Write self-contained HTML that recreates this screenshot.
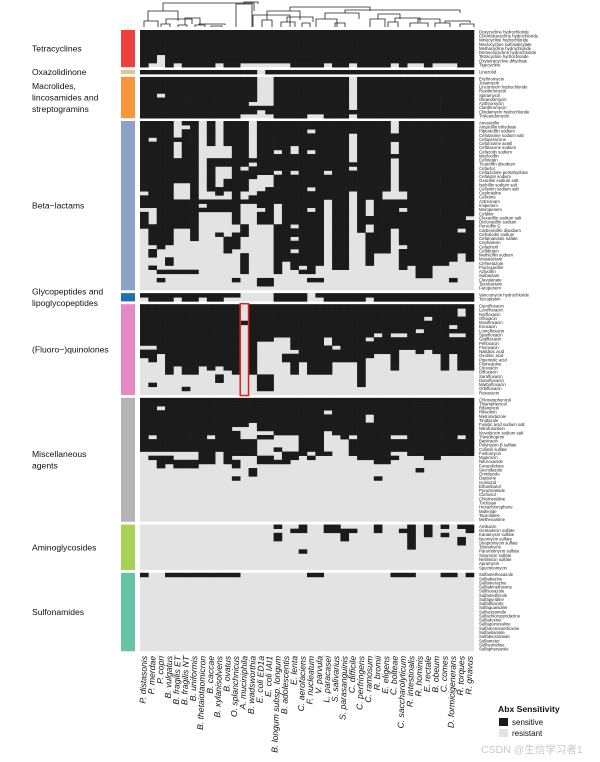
<!DOCTYPE html>
<html><head><meta charset="utf-8">
<style>
html,body{margin:0;padding:0;background:#fff;}
svg{display:block;font-family:"Liberation Sans",sans-serif;}
</style></head>
<body>
<svg id="chart" width="600" height="762" viewBox="0 0 600 762" xmlns="http://www.w3.org/2000/svg">
<g id="dendro" stroke="#222" stroke-width="0.8" fill="none">
<path d="M144 27V21H158V27 M148 21V11H178V21 M161 27V24H170V27 M166 24V19H192V24 M178 27V25H187V27 M185 25V18H200V25 M195 27V25H205V27 M199 25V24H225V25 M211 27V26H222V27 M163 11V3H254V11"/>
<path d="M236 27V4H252V27 M244 4V2H258V4 M253 27V15H290V27 M262 27V20H272V27 M267 20V11H300V20 M281 27V22H295V27 M287 22V17H313V22 M302 27V23H310V27 M290 11V7H370V11 M316 27V19H337V27 M325 19V13H359V19 M335 27V23H345V27 M345 13V10H460V13 M370 27V19H385V27 M378 19V14H400V19 M388 27V22H398V27 M395 22V18H420V22 M410 27V23H428V27 M418 23V19H440V23 M435 27V23H450V27 M445 23V21H470V23 M460 27V24H474V27"/>
</g>
<g id="left" font-size="8.6" fill="#111"></g>
<g id="bars"></g>
<g id="cells"></g>
<g id="rowlabels" font-size="4.3" fill="#222"></g>
<g id="collabels" font-size="8.6" font-style="italic" fill="#111"></g>
<g>
<text x="498" y="712" font-size="8.6" font-weight="bold" fill="#111">Abx Sensitivity</text>
<rect x="499" y="718" width="9" height="8" fill="#1a1a1a"/>
<text x="512" y="725" font-size="8" fill="#111">sensitive</text>
<rect x="499" y="729" width="9" height="8" fill="#e3e3e3"/>
<text x="512" y="736" font-size="8" fill="#111">resistant</text>
</g>
<text x="481" y="753" font-size="10.5" fill="#c8c8c8" font-family="'Liberation Sans','Noto Sans CJK SC',sans-serif">CSDN @生信学习者1</text>
</svg>
<script>
const colNames = ["P. distasonis","P. merdae","P. copri","B. vulgatus","B. fragilis ET","B. fragilis NT","B. uniformis","B. thetaiotaomicron","B. caccae","B. xylanisolvens","B. ovatus","O. splanchnicus","A. muciniphila","B. wadsworthia","E. coli ED1a","E. coli IAI1","B. longum subsp. longum","B. adolescentis","E. lenta","C. aerofaciens","F. nucleatum","V. parvula","L. paracasei","S. salivarius","S. parasanguinis","C. difficile","C. perfringens","C. ramosum","R. bromii","E. eligens","C. bolteae","C. saccharolyticum","R. intestinalis","R. hominis","E. rectale","B. obeum","C. comes","D. formicigenerans","R. torques","R. gnavus"];
const groupNames = ["Tetracyclines","Oxazolidinone","Macrolides, lincosamides and streptogramins","Beta\u2212lactams","Glycopeptides and lipoglycopeptides","(Fluoro\u2212)quinolones","Miscellaneous agents","Aminoglycosides","Sulfonamides"];
const groupColors = ["#ef3f3f","#e3c393","#f7963a","#8ea1cb","#2070b0","#e58ac2","#b4b4b4","#a6d355","#66c3a5"];
// rows: "g:" = list of resistant columns (rest sensitive); "b:" = list of sensitive columns (rest resistant)
const tetraRows = ["g:","g:","g:","g:","g:","g:","g:2","g:2","g:1,2,4,9,12-17,22,25,30,32,33,35-37"];
const oxaRows = ["g:14"];
const macroRows = ["g:14,15,25","g:14,15,25","g:14,15,25","g:14,15,25","g:2,14,15,25","g:14,15,25","g:13-15,25","g:25","g:14","g:12-15,20,21,25"];
const betaRows = ["g:4,7,9,13,30","g:4,5,7,9,13,30","g:4,7,9,13,20,30","g:4,7,9,13,25","g:1,7,9,13,25","g:4,7,9,13,25,30","g:4,7-10,13,18,25,30","g:4,7-10,13,16,18,20,25,30","g:4,7-10,13,25","g:7,25,30","g:7,13,30","g:7,9,10,12,25,30","g:7,9,10,16,18,22,30","g:7,9,10,14,15,30","g:7,9,13-15,30","g:4,5,7,9,13-15,30","g:4,5,7,13,14,20,30","g:0,4,5,7,8,10,12,13,25,29-31","g:4,5,7-10,12,25,29-31","g:22,25,27","g:7,12,13,16,22,25,27","g:0,1,12-14,16,20,22,25,27,31","g:1,7-10,12,13,16,22,25,27","g:1,7-10,12,13,16,22,25,39","g:1,7-10,12,13,16,22,25","g:7-11,13-15,18,22,25,27","g:0,4,5,7-11,13-15,22,25,27,30,38","g:0,4,5,7,8,10,13-15,22,25,26,30","g:0,4,5,7-9,12-15,18,22,25,26,30","g:0,4-9,12-15,22,25,26,30","g:0,1,3-9,12-15,22,25,26,30,31","g:0,2-9,11-15,18,22,25,26,30","g:0,2-11,13-15,22,25,26,28-30,38","g:0-2,4-11,13-15,22,25,26,28-30,38","g:0-2,4-11,13-15,17,22,25,26,28-30,37-39","g:0,2-11,13-15,17,19,21,22,25-30,32,35-39","b:2-6,12,16,19,20,33,34","b:33,34","b:2,11,14,15,20,21,37","b:14,15","b:"];
const glycoRows = ["g:12-15,20","g:0,4,7,10-15,20,21,27"];
const fluoroDepth = [13,14,12,17,15,17,17,15,16,15,16,17,0,17,9,9,8,8,17,14,17,17,17,14,14,14,20,13,12,12,16,11,11,12,11,12,16,12,16,16];
const fluoroFlips = [[10,0],[10,1],[19,1],[20,5],[17,9],[18,9],[4,12],[17,14],[18,14],[19,14],[20,14],[17,15],[18,15],[19,15],[20,15],[12,17],[13,17],[11,18],[8,22],[9,22],[10,23],[8,27],[7,28],[7,30],[7,31],[6,33],[3,34],[5,37],[7,37],[1,38],[2,38],[7,38]];
const miscDepth = [13,16,17,16,17,17,17,16,16,16,16,17,14,14,16,16,16,16,15,14,15,14,15,13,13,14,15,15,16,16,15,13,14,14,15,15,14,14,14,15];
const miscFlips = [[9,1],[13,1],[15,1],[2,2],[13,2],[13,3],[13,4],[14,4],[13,5],[14,5],[13,6],[14,6],[9,8],[13,9],[14,9],[15,9],[7,11],[14,11],[19,11],[7,12],[8,12],[9,12],[6,13],[7,13],[8,13],[9,13],[17,13],[18,13],[8,14],[10,14],[11,14],[12,14],[13,14],[8,15],[10,15],[11,15],[12,15],[13,15],[9,16],[10,16],[11,16],[13,16],[14,16],[9,17],[10,17],[11,17],[12,17],[9,18],[10,18],[11,18],[12,18],[13,20],[3,22],[8,22],[9,22],[10,22],[11,22],[12,22],[14,22],[9,23],[10,23],[11,23],[12,23],[10,24],[11,24],[12,24],[9,25],[4,27],[5,27],[19,28],[9,30],[13,30],[9,31],[17,33],[9,38],[14,39]];
const miscRowCount = 30;
const fluoroRowCount = 22;
const aminoRows = ["b:16,19,22,23,28,32,34,36,38,39","b:18,19,22-25,28,31,32,34,39","b:16,24,32,34,36","b:16,24,32,38","b:32,38","b:32","b:19","b:","b:","b:","b:"];
const sulfaRows = ["b:0,3-11,20,21,30-32,36,37,39","b:","b:","b:","b:","b:","b:","b:","b:","b:","b:","b:","b:","b:","b:","b:","b:","b:","b:"];
const drugNames = [
["Doxycycline hydrochloride","Chlortetracycline hydrochloride","Minocycline hydrochloride","Meclocycline sulfosalicylate","Methacycline hydrochloride","Demeclocycline hydrochloride","Tetracycline hydrochloride","Oxytetracycline dihydrate","Tigecycline"],
["Linezolid"],
["Erythromycin","Josamycin","Lincomycin hydrochloride","Roxithromycin","Spiramycin","Oleandomycin","Azithromycin","Clarithromycin","Clindamycin hydrochloride","Troleandomycin"],
["Amoxicillin","Ampicillin trihydrate","Piperacillin sodium","Cefotaxime sodium salt","Cefoperazone","Cefuroxime axetil","Ceftriaxone sodium","Cefazolin sodium","Mezlocillin","Cefotetan","Ticarcillin disodium","Cefaclor","Ceftazidime pentahydrate","Cefalotin sodium","Oxacillin sodium salt","Nafcillin sodium salt","Cefoxitin sodium salt","Cephradine","Cefixime","Aztreonam","Imipenem","Meropenem","Cefdinir","Cloxacillin sodium salt","Dicloxacillin sodium","Penicillin G","Carbenicillin disodium","Cefsulodin sodium","Cefamandole nafate","Cephalexin","Cefadroxil","Ceftibuten","Methicillin sodium","Moxalactam","Cefmetazole","Flucloxacillin","Azlocillin","Sulbactam","Clavulanate","Tazobactam","Faropenem"],
["Vancomycin hydrochloride","Teicoplanin"],
["Ciprofloxacin","Levofloxacin","Norfloxacin","Ofloxacin","Moxifloxacin","Enoxacin","Lomefloxacin","Sparfloxacin","Gatifloxacin","Pefloxacin","Fleroxacin","Nalidixic acid","Oxolinic acid","Pipemidic acid","Flumequine","Cinoxacin","Difloxacin","Sarafloxacin","Danofloxacin","Marbofloxacin","Orbifloxacin","Rosoxacin"],
["Chloramphenicol","Thiamphenicol","Rifampicin","Rifaximin","Metronidazole","Tinidazole","Fusidic acid sodium salt","Nitrofurantoin","Novobiocin sodium salt","Trimethoprim","Bacitracin","Polymyxin B sulfate","Colistin sulfate","Fosfomycin","Mupirocin","Nifuroxazide","Furazolidone","Secnidazole","Ornidazole","Dapsone","Isoniazid","Ethambutol","Pyrazinamide","Clofoctol","Chlorhexidine","Triclosan","Hexachlorophene","Mafenide","Taurolidine","Methenamine"],
["Amikacin","Gentamicin sulfate","Kanamycin sulfate","Neomycin sulfate","Streptomycin sulfate","Tobramycin","Paromomycin sulfate","Sisomicin sulfate","Netilmicin sulfate","Apramycin","Spectinomycin"],
["Sulfamethoxazole","Sulfadiazine","Sulfamerazine","Sulfadimethoxine","Sulfisoxazole","Sulfamethizole","Sulfapyridine","Sulfathiazole","Sulfaguanidine","Sulfacetamide","Sulfachloropyridazine","Sulfadoxine","Sulfaquinoxaline","Sulfamonomethoxine","Sulfanilamide","Sulfabenzamide","Sulfameter","Sulfisomidine","Sulfaphenazole"]
];

const SVGNS = "http://www.w3.org/2000/svg";
const X0 = 140, X1 = 474, NC = colNames.length;
const CW = (X1 - X0) / NC;
const Y0 = 30, RH = 4.13, GAP = 2.8;

function parseList(s){
  const out = new Set();
  if(!s) return out;
  s.split(",").forEach(p=>{ if(p==="") return; if(p.includes("-")){const [a,b]=p.split("-").map(Number); for(let i=a;i<=b;i++) out.add(i);} else out.add(Number(p)); });
  return out;
}
function rowsFromSpec(spec){
  return spec.map(r=>{
    const mode = r.slice(0,1), set = parseList(r.slice(2));
    const row = [];
    for(let c=0;c<NC;c++) row.push(mode==="g" ? (set.has(c)?0:1) : (set.has(c)?1:0));
    return row;
  });
}
function rowsFromDepth(depth, flips, n){
  const rows = [];
  for(let r=0;r<n;r++){ const row=[]; for(let c=0;c<NC;c++) row.push(r<depth[c]?1:0); rows.push(row); }
  flips.forEach(([r,c])=>{ if(r<n) rows[r][c]=1-rows[r][c]; });
  return rows;
}
const groups = [
  rowsFromSpec(tetraRows), rowsFromSpec(oxaRows), rowsFromSpec(macroRows), rowsFromSpec(betaRows),
  rowsFromSpec(glycoRows), rowsFromDepth(fluoroDepth, fluoroFlips, fluoroRowCount),
  rowsFromDepth(miscDepth, miscFlips, miscRowCount), rowsFromSpec(aminoRows), rowsFromSpec(sulfaRows)
];
function xScale(c){ return X0 + c*CW; }

const cellsG = document.getElementById("cells");
const barsG = document.getElementById("bars");
const leftG = document.getElementById("left");
const rlG = document.getElementById("rowlabels");
const labelLines = [["Tetracyclines"],["Oxazolidinone"],["Macrolides,","lincosamides and","streptogramins"],["Beta\u2212lactams"],["Glycopeptides and","lipoglycopeptides"],["(Fluoro\u2212)quinolones"],["Miscellaneous","agents"],["Aminoglycosides"],["Sulfonamides"]];
let y = Y0;
groups.forEach((rows, gi)=>{
  const gy0 = y, gh = rows.length*RH;
  const bg = document.createElementNS(SVGNS,"rect");
  bg.setAttribute("x",X0); bg.setAttribute("y",gy0); bg.setAttribute("width",X1-X0); bg.setAttribute("height",gh); bg.setAttribute("fill","#e3e3e3");
  
  
  cellsG.appendChild(bg);
  rows.forEach((row, ri)=>{
    row.forEach((v, c)=>{
      if(!v) return;
      const rc = document.createElementNS(SVGNS,"rect");
      rc.setAttribute("x", xScale(c)); rc.setAttribute("y", gy0+ri*RH);
      rc.setAttribute("width", CW+0.3); rc.setAttribute("height", RH+0.3);
      rc.setAttribute("fill","#1b1b1b");
      
      
      cellsG.appendChild(rc);
    });
    const t = document.createElementNS(SVGNS,"text");
    t.setAttribute("x", 479); t.setAttribute("y", gy0+ri*RH+3.4);
    t.textContent = drugNames[gi][ri % drugNames[gi].length];
    
    
    rlG.appendChild(t);
  });
  const b = document.createElementNS(SVGNS,"rect");
  b.setAttribute("x",121); b.setAttribute("y",gy0); b.setAttribute("width",14); b.setAttribute("height",gh); b.setAttribute("fill",groupColors[gi]);
  
  
  barsG.appendChild(b);
  const lines = labelLines[gi];
  const cy = gy0 + gh/2;
  lines.forEach((ln, li)=>{
    const t = document.createElementNS(SVGNS,"text");
    t.setAttribute("x", 32);
    t.setAttribute("y", cy + 3 + (li - (lines.length-1)/2)*11.5);
    t.textContent = ln;
    
    
    leftG.appendChild(t);
  });
  y = gy0 + gh + GAP;
});
// the highlighted column box (A. muciniphila, fluoroquinolones)
(function(){
  let gy = Y0; for(let i=0;i<5;i++) gy += groups[i].length*RH + GAP;
  const r = document.createElementNS(SVGNS,"rect");
  r.setAttribute("x", xScale(12)); r.setAttribute("y", gy-0.5); r.setAttribute("width", CW); r.setAttribute("height", groups[5].length*RH+1);
  r.setAttribute("fill","none"); r.setAttribute("stroke","#e02020"); r.setAttribute("stroke-width","1.5");
  
  
  document.getElementById("chart").appendChild(r);
})();
const clG = document.getElementById("collabels");
colNames.forEach((n,c)=>{
  const t = document.createElementNS(SVGNS,"text");
  const cx = xScale(c)+CW/2+3;
  t.setAttribute("x", cx); t.setAttribute("y", 656);
  t.setAttribute("text-anchor","end");
  t.setAttribute("transform","rotate(-88 "+cx+" 656)");
  t.textContent = n;
  
  
  clG.appendChild(t);
});
</script>
</body></html>
